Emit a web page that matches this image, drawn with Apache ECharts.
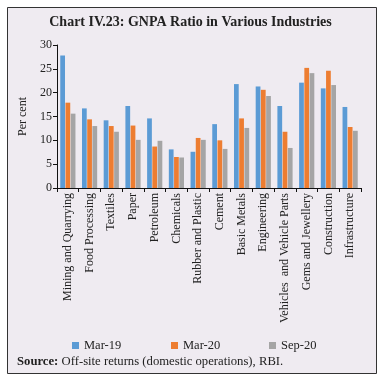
<!DOCTYPE html>
<html><head><meta charset="utf-8">
<script src="https://cdn.jsdelivr.net/npm/echarts@6/dist/echarts.min.js"></script>
<style>html,body{margin:0;padding:0;background:#fff}#c{width:381px;height:381px}</style>
</head><body><div id="c"></div>
<script>
const categories = ["Mining and Quarrying","Food Processing","Textiles","Paper","Petroleum","Chemicals","Rubber and Plastic","Cement","Basic Metals","Engineering","Vehicles  and Vehicle Parts","Gems and Jewellery","Construction","Infrastructure"];
const mar19 = [27.8,16.7,14.2,17.2,14.6,8.1,7.6,13.4,21.8,21.3,17.2,22.1,20.9,17.0];
const mar20 = [17.9,14.4,13.0,13.1,8.7,6.5,10.5,10.0,14.6,20.6,11.8,25.2,24.6,12.8];
const sep20 = [15.6,13.0,11.8,10.1,9.9,6.4,10.1,8.2,12.6,19.3,8.4,24.1,21.6,12.0];
const seriesNames = ["Mar-19","Mar-20","Sep-20"];
const colors = ["#5b9bd5","#ed7d31","#a5a5a5"];
const font = "'Liberation Serif', 'DejaVu Serif', serif";

const chart = echarts.init(document.getElementById('c'), null, {renderer:'canvas'});
const mk = (name, data, color) => ({
  name, type:'bar', data, itemStyle:{color}, barGap:'10%', barCategoryGap:'30%'
});
const legendAt = (i, left) => ({
  data:[seriesNames[i]], left, top:339, padding:0, itemWidth:7, itemHeight:7, icon:'rect',
  textStyle:{fontFamily:font, fontSize:12.5, color:'#222'}
});
chart.setOption({
  backgroundColor:'#ffffff',
  animation:false,
  graphic:[
    {type:'rect', shape:{x:7.5,y:7.5,width:369,height:366}, style:{fill:'#efebf1', stroke:'#333', lineWidth:1}, z:-10},
    {type:'text', left:'center', top:15, style:{text:'Chart IV.23: GNPA Ratio in Various Industries', fontFamily:font, fontWeight:'bold', fontSize:14, fill:'#222'}},
    {type:'text', left:17, top:355, style:{text:'{b|Source:} Off-site returns (domestic operations), RBI.', fontFamily:font, fontSize:12.7, fill:'#222', rich:{b:{fontFamily:font, fontWeight:'bold', fontSize:12.7, fill:'#222'}}}}
  ],
  legend:[legendAt(0,72), legendAt(1,171), legendAt(2,269)],
  grid:{left:57, right:20, top:45, bottom:193, containLabel:false},
  xAxis:{
    type:'category', data:categories,
    axisLine:{lineStyle:{color:'#111', width:1}},
    axisTick:{show:true, length:4, lineStyle:{color:'#111'}},
    axisLabel:{rotate:90, interval:0, fontFamily:font, fontSize:12, color:'#222', margin:5}
  },
  yAxis:{
    type:'value', min:0, max:30, interval:5,
    name:'Per cent', nameLocation:'middle', nameGap:28, nameRotate:90,
    nameTextStyle:{fontFamily:font, fontSize:12, color:'#222'},
    splitLine:{show:false},
    axisLine:{show:true, lineStyle:{color:'#111'}},
    axisTick:{show:true, length:4, lineStyle:{color:'#111'}},
    axisLabel:{fontFamily:font, fontSize:12, color:'#222', margin:5}
  },
  series:[mk(seriesNames[0],mar19,colors[0]), mk(seriesNames[1],mar20,colors[1]), mk(seriesNames[2],sep20,colors[2])]
});
</script></body></html>
